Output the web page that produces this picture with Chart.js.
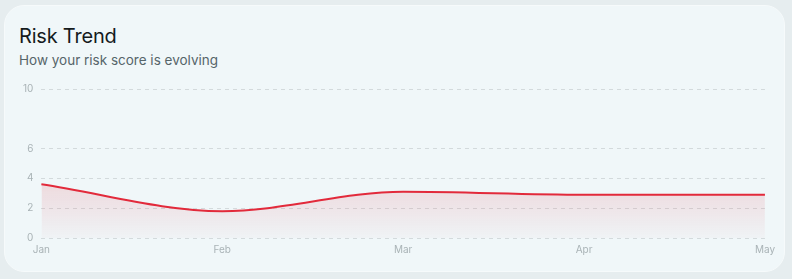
<!DOCTYPE html>
<html>
<head>
<meta charset="utf-8">
<script src="https://cdn.jsdelivr.net/npm/chart.js@4.4.0/dist/chart.umd.min.js"></script>
<style>
   html, body { margin: 0; padding: 0; }
   body { width: 792px; height: 279px; background: #e6edef; font-family: Inter, "Noto Sans", sans-serif; position: relative; overflow: hidden; }
   .card {
      position: absolute; left: 4px; top: 5px; width: 781px; height: 267px;
      background: #f0f7f9; border: 1px solid #f6fafb; border-radius: 20px; box-sizing: border-box;
   }
   .title { position: absolute; left: 14px; top: 18px; font-size: 20px; color: #151b1d; letter-spacing: -0.2px; }
   .subtitle { position: absolute; left: 14px; top: 46px; font-size: 13.5px; color: #56656a; }
   .chart-box { position: absolute; left: 10px; top: 69px; width: 766px; height: 187px; }
</style>
</head>
<body>
<div class="card">
   <div class="title">Risk Trend</div>
   <div class="subtitle">How your risk score is evolving</div>
   <div class="chart-box"><canvas id="riskChart"></canvas></div>
</div>
<script>
const months = ['Jan', 'Feb', 'Mar', 'Apr', 'May'];
const riskScores = [3.6, 1.8, 3.1, 2.9, 2.9];
const yTicks = [0, 2, 4, 6, 10];

const ctx = document.getElementById('riskChart').getContext('2d');
const riskChart = new Chart(ctx, {
   type: 'line',
   data: {
      labels: months,
      datasets: [{
         data: riskScores,
         borderColor: '#e22a3b',
         borderWidth: 2,
         pointRadius: 0,
         cubicInterpolationMode: 'monotone',
         fill: true,
         backgroundColor: (c) => {
            const area = c.chart.chartArea;
            if (!area) return 'rgba(226,42,59,0.1)';
            const g = c.chart.ctx.createLinearGradient(0, area.top + 90, 0, area.bottom);
            g.addColorStop(0, 'rgba(226,42,59,0.15)');
            g.addColorStop(1, 'rgba(226,42,59,0.02)');
            return g;
         }
      }]
   },
   options: {
      responsive: true,
      maintainAspectRatio: false,
      animation: false,
      layout: { padding: { left: 0, right: 0, top: 4, bottom: 0 } },
      plugins: { legend: { display: false }, tooltip: { enabled: false } },
      scales: {
         x: {
            grid: { display: false, drawTicks: false },
            border: { display: false },
            ticks: { color: '#a9b3b6', font: { family: 'Inter', size: 10 }, padding: 6, maxRotation: 0 }
         },
         y: {
            min: 0,
            max: 10,
            afterBuildTicks: (axis) => { axis.ticks = yTicks.map(v => ({ value: v })); },
            grid: { color: '#d3dadc', lineWidth: 1, drawTicks: false },
            border: { display: false, dash: [4, 4] },
            ticks: { color: '#a9b3b6', font: { family: 'Inter', size: 10 }, padding: 8 }
         }
      }
   }
});
</script>
</body>
</html>
